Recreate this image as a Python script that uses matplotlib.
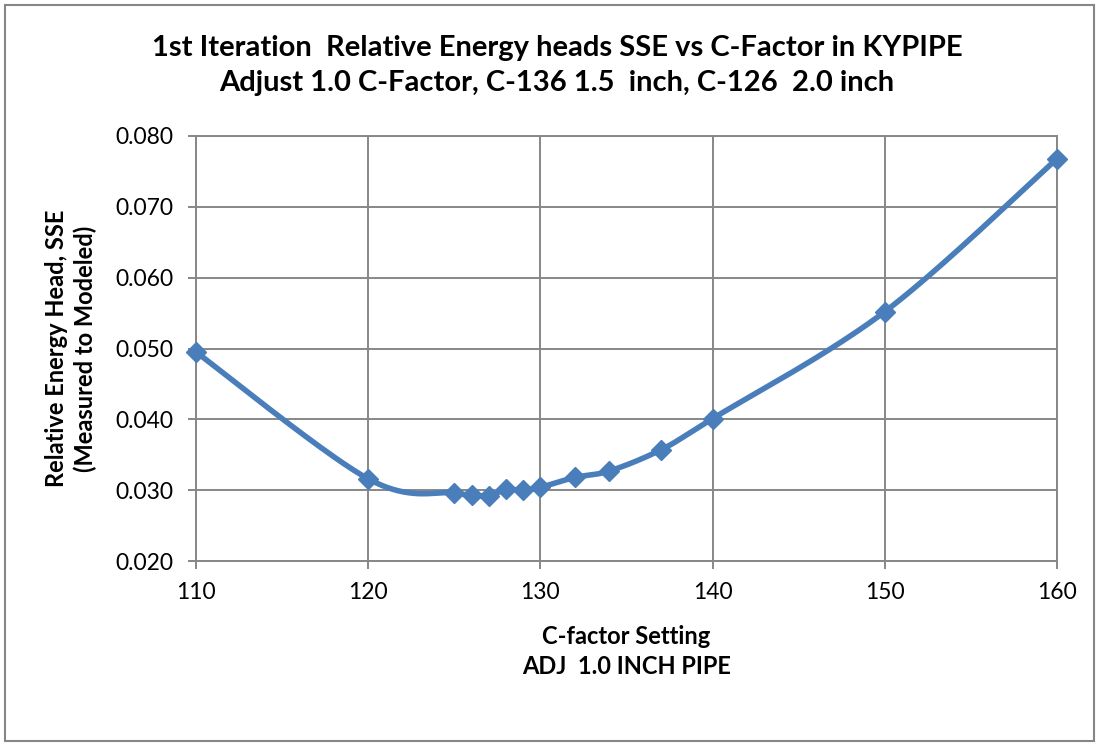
import numpy as np
import matplotlib
matplotlib.use("Agg")
import matplotlib.pyplot as plt
from matplotlib.patches import Rectangle

c_factor = [110, 120, 125, 126, 127, 128, 129, 130, 132, 134, 137, 140, 150, 160]
sse = [0.0495, 0.0316, 0.0296, 0.0293, 0.0292, 0.0301, 0.0300, 0.0304,
       0.0318, 0.0327, 0.0357, 0.0401, 0.0552, 0.0768]

title = "1st Iteration  Relative Energy heads SSE vs C-Factor in KYPIPE\nAdjust 1.0 C-Factor, C-136 1.5  inch, C-126  2.0 inch"
xlabel = "C-factor Setting\nADJ  1.0 INCH PIPE"
ylabel = "Relative Energy Head, SSE\n(Measured to Modeled)"

xlim = (110, 160)
ylim = (0.020, 0.080)


def smooth_curve(x, y, xr, yr, n=40):
    # Excel-style bezier smoothing, worked out in normalised coordinates
    p = np.column_stack([(np.array(x) - xr[0]) / (xr[1] - xr[0]),
                         (np.array(y) - yr[0]) / (yr[1] - yr[0]) * 0.49])
    out = []
    for i in range(len(p) - 1):
        p0 = p[i - 1] if i > 0 else p[i]
        p1, p2 = p[i], p[i + 1]
        p3 = p[i + 2] if i + 2 < len(p) else p[i + 1]
        c1 = p1 + (p2 - p0) / 6
        c2 = p2 - (p3 - p1) / 6
        t = np.linspace(0, 1, n)[:, None]
        seg = ((1 - t) ** 3) * p1 + 3 * ((1 - t) ** 2) * t * c1 + 3 * (1 - t) * t ** 2 * c2 + t ** 3 * p2
        out.append(seg)
    s = np.vstack(out)
    sx = s[:, 0] * (xr[1] - xr[0]) + xr[0]
    sy = s[:, 1] / 0.49 * (yr[1] - yr[0]) + yr[0]
    return sx, sy


plt.rcParams['font.family'] = ['Lato', 'DejaVu Sans']

fig = plt.figure(figsize=(10.99, 7.46), dpi=100)
ax = fig.add_axes([196 / 1099, 1 - 561 / 746, (1057 - 196) / 1099, (561 - 136) / 746])

grid_col = '#878787'
line_col = '#4a7ebb'

sx, sy = smooth_curve(c_factor, sse, xlim, ylim)
ax.plot(sx, sy, color=line_col, linewidth=4, zorder=3, solid_capstyle='round')
ax.plot(c_factor, sse, linestyle='none', marker='D', markersize=10.5,
        color=line_col, zorder=4, clip_on=False)

ax.set_xlim(*xlim)
ax.set_ylim(*ylim)
ax.set_xticks(np.arange(110, 161, 10))
ax.set_yticks(np.arange(0.020, 0.0801, 0.010))
ax.set_yticklabels(['%.3f' % v for v in np.arange(0.020, 0.0801, 0.010)])
ax.grid(True, color=grid_col, linewidth=1.4)
ax.set_axisbelow(True)
for sp in ax.spines.values():
    sp.set_color(grid_col)
    sp.set_linewidth(1.4)
ax.tick_params(axis='both', colors=grid_col, labelcolor='black', labelsize=16.5,
               length=6, width=1.4, direction='out')
ax.tick_params(axis='y', pad=10)
ax.tick_params(axis='x', pad=9)

# axis titles are centred on the plot area, like Excel does
fig.text(0.507, 0.912, title, ha='center', va='center', fontsize=21,
         fontweight='bold', linespacing=1.45)
fig.text(0.570, 0.127, xlabel, ha='center', va='center', fontsize=17,
         fontweight='bold', linespacing=1.35)
fig.text(0.0646, 0.533, ylabel, ha='center', va='center', fontsize=17,
         fontweight='bold', rotation=90, linespacing=1.25)

fig.patches.append(Rectangle((5 / 1099, 5 / 746), 1089 / 1099, 736 / 746,
                             transform=fig.transFigure, fill=False,
                             edgecolor='#868686', linewidth=1.5))

fig.savefig('out.png', dpi=100)
